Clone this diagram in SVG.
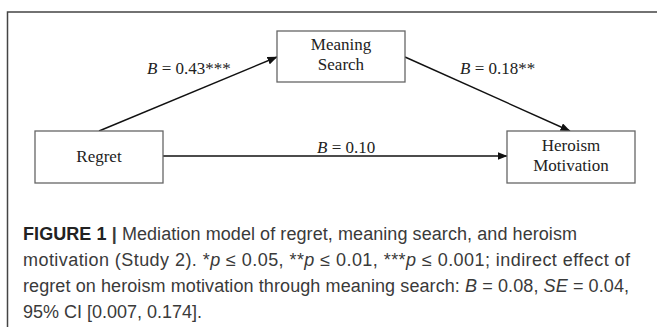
<svg xmlns="http://www.w3.org/2000/svg" width="657" height="327" viewBox="0 0 657 327">
<defs>
<marker id="ah" markerWidth="10" markerHeight="8" refX="9.5" refY="4" orient="auto" markerUnits="userSpaceOnUse">
<path d="M0,0 L10,4 L0,8 Z" fill="#111"/>
</marker>
<style>
.box{fill:#fff;stroke:#666;stroke-width:1.3}
.nt{font-family:"Liberation Serif","Times New Roman",serif;font-size:17px;fill:#222;text-anchor:middle}
.lb{font-family:"Liberation Serif","Times New Roman",serif;font-size:17px;fill:#222}
.edge{stroke:#111;stroke-width:1.4;fill:none;marker-end:url(#ah)}
.cap{font-family:"Liberation Sans",Arial,sans-serif;font-size:18px;fill:#3a3a3a}
</style>
</defs>
<rect width="657" height="327" fill="#fff"/>
<path d="M7.5,327 V12 H657" fill="none" stroke="#444" stroke-width="1.5"/>
<g id="connectors">
<line class="edge" x1="99" y1="131" x2="277" y2="57"/>
<line class="edge" x1="405" y1="57" x2="570" y2="131"/>
<line class="edge" x1="163" y1="156" x2="507" y2="156"/>
<text class="lb" x="147" y="74"><tspan font-style="italic">B</tspan> = 0.43***</text>
<text class="lb" x="460" y="74"><tspan font-style="italic">B</tspan> = 0.18**</text>
<text class="lb" x="317" y="153"><tspan font-style="italic">B</tspan> = 0.10</text>
</g>
<g id="meaning">
<rect class="box" x="277" y="31" width="128" height="51"/>
<text class="nt" x="341" y="50">Meaning</text>
<text class="nt" x="341" y="70">Search</text>
</g>
<g id="regret">
<rect class="box" x="35" y="131" width="128" height="52"/>
<text class="nt" x="99" y="162">Regret</text>
</g>
<g id="heroism">
<rect class="box" x="507" y="131" width="128" height="52"/>
<text class="nt" x="571" y="151">Heroism</text>
<text class="nt" x="571" y="171">Motivation</text>
</g>
<g id="caption">
<text class="cap" x="23" y="240" textLength="554"><tspan font-weight="bold" fill="#222">FIGURE 1</tspan> <tspan font-weight="bold">|</tspan> Mediation model of regret, meaning search, and heroism</text>
<text class="cap" x="23" y="266" textLength="607">motivation (Study 2). *<tspan font-style="italic">p</tspan> ≤ 0.05, **<tspan font-style="italic">p</tspan> ≤ 0.01, ***<tspan font-style="italic">p</tspan> ≤ 0.001; indirect effect of</text>
<text class="cap" x="23" y="292" textLength="606">regret on heroism motivation through meaning search: <tspan font-style="italic">B</tspan> = 0.08, <tspan font-style="italic">SE</tspan> = 0.04,</text>
<text class="cap" x="23" y="318">95% CI [0.007, 0.174].</text>
</g>
</svg>
